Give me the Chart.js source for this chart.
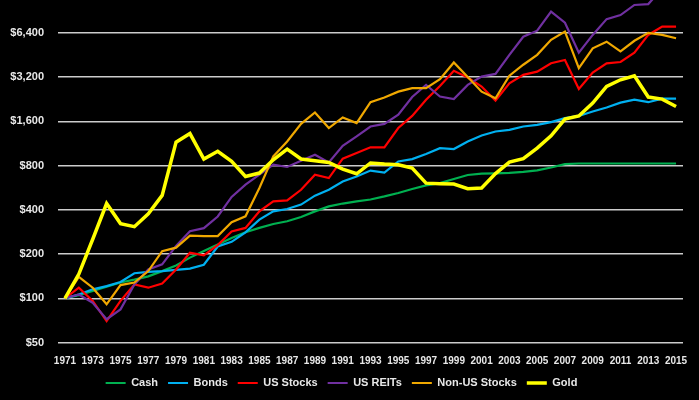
<!DOCTYPE html>
<html>
<head>
<meta charset="utf-8">
<script src="https://cdn.jsdelivr.net/npm/chart.js@4.4.0/dist/chart.umd.min.js"></script>
<style>
    html, body { margin: 0; padding: 0; background: #000; }
    #wrap { width: 699px; height: 400px; }
</style>
</head>
<body>
<div id="wrap"><canvas id="growthChart" width="699" height="400"></canvas></div>
<script>
// Growth of $100 invested in 1971, by asset class
const years = [1971, 1972, 1973, 1974, 1975, 1976, 1977, 1978, 1979, 1980,
    1981, 1982, 1983, 1984, 1985, 1986, 1987, 1988, 1989, 1990,
    1991, 1992, 1993, 1994, 1995, 1996, 1997, 1998, 1999, 2000,
    2001, 2002, 2003, 2004, 2005, 2006, 2007, 2008, 2009, 2010,
    2011, 2012, 2013, 2014, 2015];

const cash = [100, 105, 112, 120, 128, 134, 141, 153, 167, 189,
    210, 232, 257, 281, 301, 320, 334, 357, 390, 422,
    441, 456, 470, 493, 520, 554, 586, 607, 648, 690,
    705, 708, 712, 724, 741, 776, 818, 826, 826, 826,
    826, 826, 826, 826, 826];

const bonds = [100, 106, 115, 121, 129, 148, 151, 153, 156, 159,
    169, 225, 242, 281, 343, 390, 405, 434, 499, 547,
    623, 674, 739, 717, 852, 885, 958, 1050, 1036, 1166,
    1280, 1364, 1400, 1474, 1514, 1580, 1680, 1740, 1866, 1985,
    2143, 2245, 2158, 2283, 2283];

const usStocks = [100, 118, 96, 70, 96, 124, 118, 126, 157, 204,
    196, 230, 285, 301, 390, 456, 463, 547, 693, 657,
    890, 972, 1065, 1063, 1440, 1740, 2240, 2785, 3525, 3177,
    2760, 2216, 2905, 3310, 3480, 3970, 4180, 2650, 3430, 3970,
    4050, 4690, 6190, 7050, 7050];

const usReits = [100, 106, 93, 72, 84, 124, 157, 170, 227, 286,
    300, 360, 489, 593, 693, 811, 782, 863, 946, 840,
    1091, 1262, 1474, 1537, 1772, 2340, 2830, 2360, 2265, 2830,
    3220, 3360, 4530, 6020, 6620, 8930, 7500, 4690, 6190, 7930,
    8450, 9900, 10040, 12800, 13100];

const nonUsStocks = [100, 140, 118, 91, 123, 128, 153, 209, 221, 267,
    265, 265, 329, 361, 563, 923, 1166, 1537, 1838, 1440,
    1700, 1556, 2160, 2325, 2545, 2690, 2690, 3095, 4020, 3200,
    2545, 2295, 3265, 3880, 4530, 5730, 6530, 3680, 5020, 5570,
    4780, 5650, 6400, 6190, 5880];

const gold = [100, 146, 252, 441, 322, 307, 376, 501, 1154, 1320,
    886, 1000, 853, 674, 711, 875, 1035, 886, 863, 840,
    757, 703, 833, 818, 810, 769, 607, 602, 599, 557,
    563, 705, 845, 890, 1050, 1275, 1655, 1740, 2128, 2760,
    3065, 3265, 2340, 2265, 2015];

const yTicks = [50, 100, 200, 400, 800, 1600, 3200, 6400];

const fontFamily = "'Liberation Sans', Arial, sans-serif";
const textColor = '#e8e8e8';

function makeSeries(label, data, color, width, order) {
    return {
        label: label,
        data: data,
        borderColor: color,
        backgroundColor: color,
        borderWidth: width,
        pointRadius: 0,
        pointStyle: 'line',
        tension: 0,
        fill: false,
        order: order
    };
}

const ctx = document.getElementById('growthChart').getContext('2d');
const growthChart = new Chart(ctx, {
    type: 'line',
    data: {
        labels: years,
        datasets: [
            makeSeries('Cash', cash, '#00b050', 2.2, 6),
            makeSeries('Bonds', bonds, '#00b0f0', 2.2, 5),
            makeSeries('US Stocks', usStocks, '#ff0000', 2.2, 4),
            makeSeries('US REITs', usReits, '#7030a0', 2.2, 3),
            makeSeries('Non-US Stocks', nonUsStocks, '#f0a800', 2.2, 2),
            makeSeries('Gold', gold, '#ffff00', 3.5, 1)
        ]
    },
    options: {
        responsive: false,
        animation: false,
        layout: { padding: { top: 0, right: 16, bottom: 1.5, left: 0 } },
        scales: {
            x: {
                offset: true,
                grid: { display: false },
                border: { display: false },
                afterFit: function(scale) { scale.height = 25; },
                ticks: {
                    autoSkip: false,
                    maxRotation: 0,
                    minRotation: 0,
                    padding: 5,
                    color: textColor,
                    font: { family: fontFamily, size: 10, weight: 'bold' },
                    callback: function(value, index) {
                        return index % 2 === 0 ? String(years[index]) : '';
                    }
                }
            },
            y: {
                type: 'logarithmic',
                min: 50,
                max: 10700,
                border: { display: false },
                grid: { color: '#cccccc', lineWidth: 1.4, drawTicks: false },
                afterFit: function(scale) {
                    scale.width = 58;
                    scale.paddingTop = 0;
                },
                afterBuildTicks: function(scale) {
                    scale.ticks = yTicks.map(v => ({ value: v }));
                },
                ticks: {
                    padding: 14,
                    color: textColor,
                    font: { family: fontFamily, size: 11, weight: 'bold' },
                    callback: function(value) {
                        return '$' + value.toLocaleString('en-US');
                    }
                }
            }
        },
        plugins: {
            tooltip: { enabled: false },
            legend: {
                position: 'bottom',
                labels: {
                    usePointStyle: true,
                    pointStyleWidth: 20,
                    padding: 10,
                    color: textColor,
                    font: { family: fontFamily, size: 11, weight: 'bold' },
                    sort: (a, b) => a.datasetIndex - b.datasetIndex
                }
            }
        }
    }
});
</script>
</body>
</html>
